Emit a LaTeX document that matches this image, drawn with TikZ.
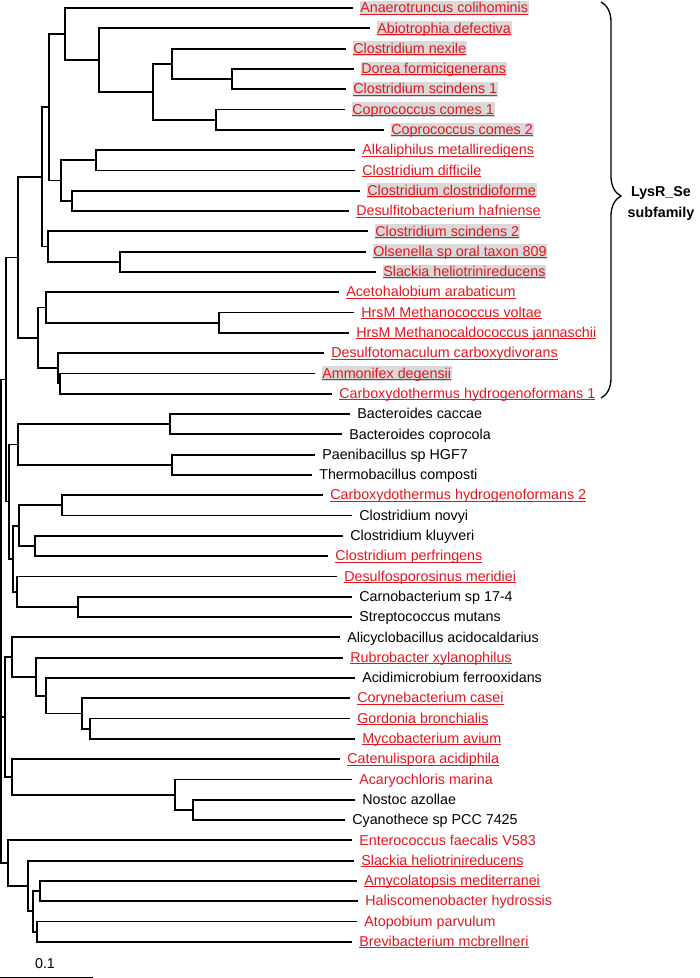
\documentclass[tikz,border=0pt]{standalone}
\usepackage{fontspec}
\setmainfont{Liberation Sans}
\usetikzlibrary{decorations.pathreplacing}
\definecolor{lsRed}{HTML}{E3161D}
\definecolor{lsGrey}{HTML}{D9D9D9}
\newcommand{\ulname}[1]{\sbox0{#1}\rlap{\rule[-1.7pt]{\wd0}{0.9pt}}\usebox0}

\begin{document}
\begin{tikzpicture}[x=1pt, y=-1pt,
    every node/.style={font=\fontsize{14.3}{17}\selectfont},
    br/.style={line width=1.8pt},
    leaf/.style={anchor=west, outer xsep=6.5pt, inner xsep=0.8pt, inner ysep=0pt,
                 text height=12pt, text depth=2.6pt},
    bklab/.style={leaf},
    rdlab/.style={leaf, text=lsRed},
    hllab/.style={rdlab, fill=lsGrey}]
  \useasboundingbox (0,0) rectangle (700,978);

  % leaves, LysR_Se subfamily
  \node[hllab] (anaero) at (353,8.0) {\ulname{Anaerotruncus colihominis}};
  \node[hllab] (abio) at (370,28.3) {\ulname{Abiotrophia defectiva}};
  \node[hllab] (cnexile) at (346,48.6) {\ulname{Clostridium nexile}};
  \node[hllab] (dorea) at (354,68.9) {\ulname{Dorea formicigenerans}};
  \node[hllab] (cscind1) at (346,89.2) {\ulname{Clostridium scindens 1}};
  \node[hllab] (ccomes1) at (345,109.5) {\ulname{Coprococcus comes 1}};
  \node[hllab] (ccomes2) at (384,129.8) {\ulname{Coprococcus comes 2}};
  \node[rdlab] (alkali) at (355,150.1) {\ulname{Alkaliphilus metalliredigens}};
  \node[rdlab] (cdiff) at (355,170.4) {\ulname{Clostridium difficile}};
  \node[hllab] (cclos) at (360,190.7) {\ulname{Clostridium clostridioforme}};
  \node[rdlab] (desulfi) at (349,211.0) {\ulname{Desulfitobacterium hafniense}};
  \node[hllab] (cscind2) at (368,231.3) {\ulname{Clostridium scindens 2}};
  \node[hllab] (olsen) at (366,251.6) {\ulname{Olsenella sp oral taxon 809}};
  \node[hllab] (slackA) at (376,271.9) {\ulname{Slackia heliotrinireducens}};
  \node[rdlab] (aceto) at (339,292.2) {\ulname{Acetohalobium arabaticum}};
  \node[rdlab] (mvolt) at (354,312.5) {\ulname{HrsM Methanococcus voltae}};
  \node[rdlab] (mjann) at (349,332.8) {\ulname{HrsM Methanocaldococcus jannaschii}};
  \node[rdlab] (dcarb) at (324,353.1) {\ulname{Desulfotomaculum carboxydivorans}};
  \node[hllab] (ammon) at (315,373.4) {\ulname{Ammonifex degensii}};
  \node[rdlab] (chyd1) at (332,393.7) {\ulname{Carboxydothermus hydrogenoformans 1}};

  % leaves, rest of the tree
  \node[bklab] (bcacc) at (350,414.0) {Bacteroides caccae};
  \node[bklab] (bcopr) at (342,434.3) {Bacteroides coprocola};
  \node[bklab] (paeni) at (315,454.6) {Paenibacillus sp HGF7};
  \node[bklab] (thermo) at (312,474.9) {Thermobacillus composti};
  \node[rdlab] (chyd2) at (323,495.2) {\ulname{Carboxydothermus hydrogenoformans 2}};
  \node[bklab] (cnovyi) at (352,515.5) {Clostridium novyi};
  \node[bklab] (ckluy) at (343,535.8) {Clostridium kluyveri};
  \node[rdlab] (cperf) at (328,556.1) {\ulname{Clostridium perfringens}};
  \node[rdlab] (dmerid) at (337,576.4) {\ulname{Desulfosporosinus meridiei}};
  \node[bklab] (carno) at (352,596.7) {Carnobacterium sp 17-4};
  \node[bklab] (strep) at (352,617.0) {Streptococcus mutans};
  \node[bklab] (alicy) at (340,637.3) {Alicyclobacillus acidocaldarius};
  \node[rdlab] (rubro) at (343,657.6) {\ulname{Rubrobacter xylanophilus}};
  \node[bklab] (acidi) at (355,677.9) {Acidimicrobium ferrooxidans};
  \node[rdlab] (coryne) at (350,698.2) {\ulname{Corynebacterium casei}};
  \node[rdlab] (gordo) at (350,718.5) {\ulname{Gordonia bronchialis}};
  \node[rdlab] (mycob) at (355,738.8) {\ulname{Mycobacterium avium}};
  \node[rdlab] (caten) at (340,759.1) {\ulname{Catenulispora acidiphila}};
  \node[rdlab] (acary) at (352,779.4) {Acaryochloris marina};
  \node[bklab] (nostoc) at (355,799.7) {Nostoc azollae};
  \node[bklab] (cyano) at (345,820.0) {Cyanothece sp PCC 7425};
  \node[rdlab] (entero) at (352,840.3) {Enterococcus faecalis V583};
  \node[rdlab] (slackB) at (354,860.6) {\ulname{Slackia heliotrinireducens}};
  \node[rdlab] (amyco) at (357,880.9) {\ulname{Amycolatopsis mediterranei}};
  \node[rdlab] (halis) at (358,901.2) {Haliscomenobacter hydrossis};
  \node[rdlab] (atopo) at (357,921.5) {Atopobium parvulum};
  \node[rdlab] (brevi) at (352,941.8) {\ulname{Brevibacterium mcbrellneri}};

  % inner nodes, top clade
  \coordinate (nE) at (232,79.05);
  \coordinate (nD) at (172,63.8);
  \coordinate (nF) at (216,119.65);
  \coordinate (nC) at (153,91.7);
  \coordinate (nB) at (99,60);
  \coordinate (nA) at (65,34);
  \coordinate (nI) at (96,160.25);
  \coordinate (nJ) at (72,200.85);
  \coordinate (nH) at (61,180.55);
  \coordinate (nG) at (49,107.3);
  \coordinate (nM) at (120,261.75);
  \coordinate (nL) at (48,246.5);
  \coordinate (nK) at (42,176.9);
  \coordinate (nR) at (219,322.65);
  \coordinate (nQ) at (46,307.4);
  \coordinate (nT) at (60,383.55);
  \coordinate (nS) at (58,368.3);
  \coordinate (nP) at (38,337.85);
  \coordinate (nN) at (18,257.4);

  \draw[br] (dorea.west) -| (nE) |- (cscind1.west);
  \draw[br] (cnexile.west) -| (nD) |- (nE);
  \draw[br] (ccomes1.west) -| (nF) |- (ccomes2.west);
  \draw[br] (nD) -| (nC) |- (nF);
  \draw[br] (abio.west) -| (nB) |- (nC);
  \draw[br] (anaero.west) -| (nA) |- (nB);
  \draw[br] (alkali.west) -| (nI) |- (cdiff.west);
  \draw[br] (cclos.west) -| (nJ) |- (desulfi.west);
  \draw[br] (nI) -| (nH) |- (nJ);
  \draw[br] (nA) -| (nG) |- (nH);
  \draw[br] (olsen.west) -| (nM) |- (slackA.west);
  \draw[br] (cscind2.west) -| (nL) |- (nM);
  \draw[br] (nG) -| (nK) |- (nL);
  \draw[br] (mvolt.west) -| (nR) |- (mjann.west);
  \draw[br] (aceto.west) -| (nQ) |- (nR);
  \draw[br] (ammon.west) -| (nT) |- (chyd1.west);
  \draw[br] (dcarb.west) -| (nS) |- (nT);
  \draw[br] (nQ) -| (nP) |- (nS);
  \draw[br] (nK) -| (nN) |- (nP);

  % inner nodes, middle
  \coordinate (nU) at (170,424.15);
  \coordinate (nV) at (172,464.75);
  \coordinate (nW) at (18,444.45);
  \coordinate (nY) at (62,505.35);
  \coordinate (nZ) at (35,545.95);
  \coordinate (nAA) at (19,525.65);
  \coordinate (nAC) at (78,606.85);
  \coordinate (nAB) at (17,591.6);
  \coordinate (nAD) at (13,558.6);
  \coordinate (nX) at (9,501.5);
  \coordinate (nO) at (6,379.5);

  \draw[br] (bcacc.west) -| (nU) |- (bcopr.west);
  \draw[br] (paeni.west) -| (nV) |- (thermo.west);
  \draw[br] (nU) -| (nW) |- (nV);
  \draw[br] (chyd2.west) -| (nY) |- (cnovyi.west);
  \draw[br] (ckluy.west) -| (nZ) |- (cperf.west);
  \draw[br] (nY) -| (nAA) |- (nZ);
  \draw[br] (carno.west) -| (nAC) |- (strep.west);
  \draw[br] (dmerid.west) -| (nAB) |- (nAC);
  \draw[br] (nAA) -| (nAD) |- (nAB);
  \draw[br] (nW) -| (nX) |- (nAD);
  \draw[br] (nN) -| (nO) |- (nX);

  % inner nodes, lower part
  \coordinate (nAI) at (90,728.65);
  \coordinate (nAH) at (82,713.4);
  \coordinate (nAG) at (46,695.65);
  \coordinate (nAF) at (36,676.6);
  \coordinate (nAE) at (12,656.95);
  \coordinate (nAL) at (193,809.85);
  \coordinate (nAK) at (175,794.6);
  \coordinate (nAJ) at (12,776.85);
  \coordinate (nAS) at (5,716.9);
  \coordinate (nAQ) at (40,891.05);
  \coordinate (nAR) at (37,931.65);
  \coordinate (nAP) at (33,911.35);
  \coordinate (nAO) at (28,885.95);
  \coordinate (nAN) at (8,863.1);
  \coordinate (root) at (1,621.3);

  \draw[br] (gordo.west) -| (nAI) |- (mycob.west);
  \draw[br] (coryne.west) -| (nAH) |- (nAI);
  \draw[br] (acidi.west) -| (nAG) |- (nAH);
  \draw[br] (rubro.west) -| (nAF) |- (nAG);
  \draw[br] (alicy.west) -| (nAE) |- (nAF);
  \draw[br] (nostoc.west) -| (nAL) |- (cyano.west);
  \draw[br] (acary.west) -| (nAK) |- (nAL);
  \draw[br] (caten.west) -| (nAJ) |- (nAK);
  \draw[br] (nAE) -| (nAS) |- (nAJ);
  \draw[br] (amyco.west) -| (nAQ) |- (halis.west);
  \draw[br] (atopo.west) -| (nAR) |- (brevi.west);
  \draw[br] (nAQ) -| (nAP) |- (nAR);
  \draw[br] (slackB.west) -| (nAO) |- (nAP);
  \draw[br] (entero.west) -| (nAN) |- (nAO);
  \draw[br] (nO) -| (root) |- (nAN);
  \draw[br] (root) |- (nAS);

  % subfamily brace
  \coordinate (brTop) at (601,2);
  \coordinate (brBot) at (601,398);
  \draw[line width=1.3pt, decorate, decoration={brace, amplitude=20pt, aspect=0.49}]
    (brTop) -- (brBot);
  \node[font=\bfseries\fontsize{14.3}{21}\selectfont, align=center] (lysr) at (661,203)
    {LysR\_Se\\subfamily};

  % scale bar
  \coordinate (sbL) at (0,977);
  \coordinate (sbR) at (93,977);
  \draw[line width=1pt] (sbL) -- (sbR);
  \node (sbtxt) at (45,964) {0.1};
\end{tikzpicture}
\end{document}
